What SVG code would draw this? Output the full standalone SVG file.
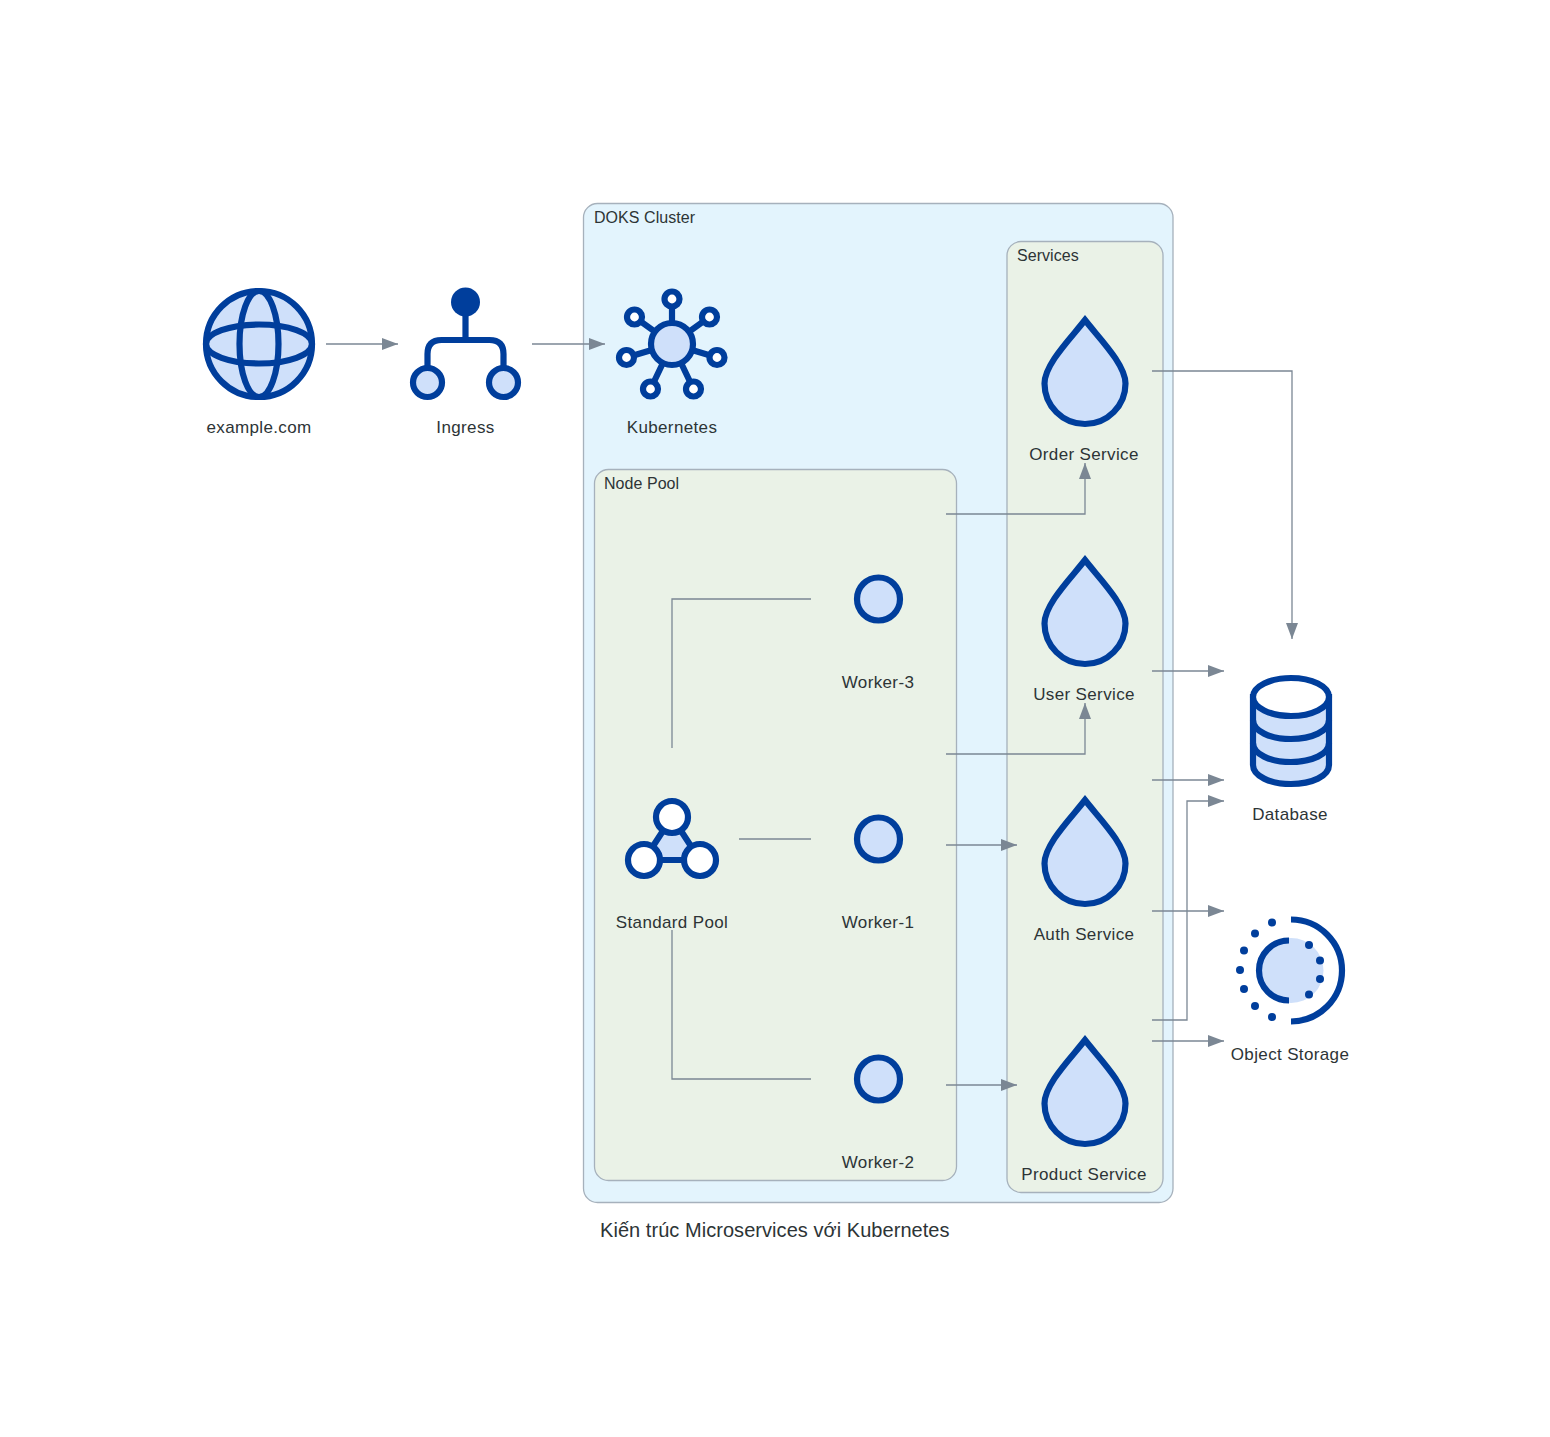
<svg xmlns="http://www.w3.org/2000/svg" width="1550" height="1437" viewBox="0 0 1550 1437">
<style>
text{font-family:"Liberation Sans",Arial,sans-serif;fill:#2d3436}
.l{font-size:17px;text-anchor:middle;letter-spacing:.36px}
.c{font-size:16px;letter-spacing:.05px}
.t{font-size:20px;letter-spacing:.05px}
.cl{stroke:#a6b1bc;stroke-width:1.3}
.i{fill:#cfe0fa;stroke:#003e9c;stroke-width:6.2}
.w{fill:#fff;stroke:#003e9c;stroke-width:6.2}
.n{fill:none;stroke:#003e9c;stroke-width:6.2}
.d{fill:#003e9c}
.e{fill:none;stroke:#7b8794;stroke-width:1.3}
</style>
<defs>
<marker id="a" markerUnits="userSpaceOnUse" markerWidth="16" markerHeight="12" refX="16" refY="6" orient="auto"><path d="M0 0L16 6L0 12Z" fill="#7b8794"/></marker>
<path id="drop" d="M1085 320C1072 337 1044.500 364 1044.500 383.500A40.500 40.500 0 0 0 1125.500 383.500C1125.500 364 1098 337 1085 320Z"/>
</defs>
<rect width="1550" height="1437" fill="#fff"/>
<g id="clusters">
<g id="doks-cluster"><rect class="cl" x="583.5" y="203.5" width="589.5" height="999" rx="14" fill="#e3f4fd"/><text class="c" x="594" y="223">DOKS Cluster</text></g>
<g id="services"><rect class="cl" x="1007" y="241.5" width="156" height="951" rx="14" fill="#eaf2e7"/><text class="c" x="1017" y="261">Services</text></g>
<g id="node-pool"><rect class="cl" x="594.5" y="469.5" width="362" height="711" rx="14" fill="#eaf2e7"/><text class="c" x="604" y="489">Node Pool</text></g>
</g>
<g id="connectors">
<path class="e" marker-end="url(#a)" d="M326 344H398"/>
<path class="e" marker-end="url(#a)" d="M532 344H605"/>
<path class="e" d="M672 748V599H811"/>
<path class="e" d="M739 839H811"/>
<path class="e" d="M672 930V1079H811"/>
<path class="e" marker-end="url(#a)" d="M946 514H1085V463"/>
<path class="e" marker-end="url(#a)" d="M946 754H1085V703"/>
<path class="e" marker-end="url(#a)" d="M946 845H1017"/>
<path class="e" marker-end="url(#a)" d="M946 1085H1017"/>
<path class="e" marker-end="url(#a)" d="M1152 371H1292V639"/>
<path class="e" marker-end="url(#a)" d="M1152 671H1224"/>
<path class="e" marker-end="url(#a)" d="M1152 780H1224"/>
<path class="e" marker-end="url(#a)" d="M1152 911H1224"/>
<path class="e" marker-end="url(#a)" d="M1152 1020H1187V801H1224"/>
<path class="e" marker-end="url(#a)" d="M1152 1041H1224"/>
</g>
<g id="example-com">
<circle class="i" cx="259" cy="344" r="53"/><ellipse class="n" cx="259" cy="344" rx="19.500" ry="53"/><ellipse class="n" cx="259" cy="344" rx="53" ry="19.500"/>
<text class="l" x="259" y="433">example.com</text></g>
<g id="ingress">
<path class="n" d="M465.500 305V340M427.500 368V354Q427.500 340 441.500 340H489.500Q503.500 340 503.500 354V368"/>
<circle class="d" cx="465.500" cy="302" r="14.500"/>
<circle class="i" cx="427.500" cy="382.500" r="14.500"/><circle class="i" cx="503.500" cy="382.500" r="14.500"/>
<text class="l" x="465.500" y="433">Ingress</text></g>
<g id="kubernetes">
<path class="n" d="M672 344L672 299M672 344L634.500 317M672 344L709.500 317M672 344L626.500 357.500M672 344L717 357.500M672 344L650.500 389M672 344L693.500 389"/>
<circle class="i" cx="672" cy="344" r="21"/>
<circle class="w" cx="672" cy="299" r="7.500"/><circle class="w" cx="634.500" cy="317" r="7.500"/><circle class="w" cx="709.500" cy="317" r="7.500"/><circle class="w" cx="626.500" cy="357.500" r="7.500"/><circle class="w" cx="717" cy="357.500" r="7.500"/><circle class="w" cx="650.500" cy="389" r="7.500"/><circle class="w" cx="693.500" cy="389" r="7.500"/>
<text class="l" x="672" y="433">Kubernetes</text></g>
<g id="standard-pool">
<path class="i" d="M672 817L700 860H644Z"/>
<circle class="w" cx="672" cy="817" r="16"/><circle class="w" cx="644" cy="860" r="16"/><circle class="w" cx="700" cy="860" r="16"/>
<text class="l" x="672" y="928">Standard Pool</text></g>
<g id="worker-3"><circle class="i" cx="878.500" cy="599" r="21.500"/><text class="l" x="878" y="688">Worker-3</text></g>
<g id="worker-1"><circle class="i" cx="878.500" cy="839" r="21.500"/><text class="l" x="878" y="928">Worker-1</text></g>
<g id="worker-2"><circle class="i" cx="878.500" cy="1079" r="21.500"/><text class="l" x="878" y="1168">Worker-2</text></g>
<g id="order-service"><use href="#drop" class="i"/><text class="l" x="1084" y="460">Order Service</text></g>
<g id="user-service"><use href="#drop" class="i" y="240"/><text class="l" x="1084" y="700">User Service</text></g>
<g id="auth-service"><use href="#drop" class="i" y="480"/><text class="l" x="1084" y="940">Auth Service</text></g>
<g id="product-service"><use href="#drop" class="i" y="720"/><text class="l" x="1084" y="1180">Product Service</text></g>
<g id="database">
<path class="i" d="M1253 697V765C1253 776 1270 784 1291 784C1312 784 1329 776 1329 765V697Z"/>
<path class="n" d="M1253 720C1253 731 1270 739 1291 739C1312 739 1329 731 1329 720M1253 743C1253 754 1270 762 1291 762C1312 762 1329 754 1329 743"/>
<ellipse class="w" cx="1291" cy="697" rx="38" ry="19"/>
<text class="l" x="1290" y="820">Database</text></g>
<g id="object-storage">
<circle cx="1291" cy="970.500" r="32.500" fill="#cfe0fa"/>
<path class="n" d="M1289 940.500A30 30 0 0 0 1289 1000.500M1291 919.500A51 51 0 0 1 1291 1021.500"/>
<g class="d"><circle cx="1272" cy="922.500" r="4"/><circle cx="1255" cy="933.500" r="4"/><circle cx="1244" cy="950.500" r="4"/><circle cx="1240" cy="970" r="4"/><circle cx="1244" cy="989" r="4"/><circle cx="1255" cy="1006" r="4"/><circle cx="1272" cy="1017" r="4"/><circle cx="1309" cy="945" r="4"/><circle cx="1320" cy="960.500" r="4"/><circle cx="1320" cy="979" r="4"/><circle cx="1309" cy="994.500" r="4"/></g>
<text class="l" x="1290" y="1060">Object Storage</text></g>
<g id="caption"><text class="t" x="600" y="1237">Kiến trúc Microservices với Kubernetes</text></g>
</svg>
